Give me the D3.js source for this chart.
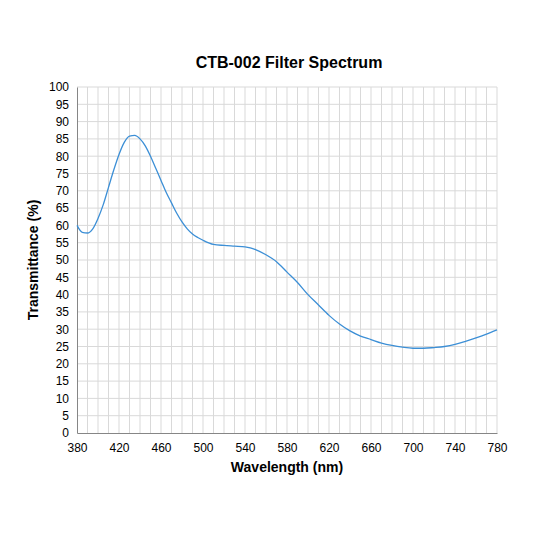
<!DOCTYPE html><html><head><script src="https://cdn.jsdelivr.net/npm/d3@7"></script>
<style>body{margin:0;background:#fff}text{font-family:Arial,"Liberation Sans",sans-serif}</style></head><body>
<svg width="533" height="533"></svg>
<script>
const wavelengths=[380,385,390,395,400,405,410,415,420,425,430,435,440,445,450,455,460,465,470,475,480,485,490,495,500,510,520,530,540,545,550,560,570,580,590,600,610,620,630,640,650,660,670,680,690,700,710,720,730,740,750,760,770,780];
const transmittance=[60,58,57.8,59,62,66,71,76,80.5,84,85.8,86,85,83,80,76.5,73,69.5,66.5,63.5,61,59,57.5,56.5,55.7,54.5,54.2,54,53.8,53.5,53,51.5,49.5,46.5,43.5,40,37,34,31.5,29.5,28,27,26,25.3,24.8,24.5,24.5,24.7,25,25.6,26.5,27.5,28.6,29.8];
const xTicks=d3.range(380,781,40), yTicks=d3.range(0,101,5);
const svg=d3.select("svg");
const x=d3.scaleLinear().domain([380,780]).range([77,497]);
const y=d3.scaleLinear().domain([0,100]).range([433,87]);
const g=svg.append("g");
g.selectAll(".vg").data(d3.range(390,781,10)).join("line").attr("x1",x).attr("x2",x).attr("y1",87).attr("y2",433).attr("stroke","#d9d9d9");
g.selectAll(".hg").data(d3.range(5,101,5)).join("line").attr("y1",y).attr("y2",y).attr("x1",77).attr("x2",497).attr("stroke","#d9d9d9");
const ya=svg.append("g").attr("transform","translate(77,0)").call(d3.axisLeft(y).tickValues(yTicks).tickSize(0).tickPadding(8));
const xa=svg.append("g").attr("transform","translate(0,433)").call(d3.axisBottom(x).tickValues(xTicks).tickSize(0).tickPadding(10));
[ya,xa].forEach(a=>{a.select(".domain").attr("stroke","#868686");a.selectAll("text").attr("font-size",12).attr("fill","#000")});
svg.append("path").datum(wavelengths.map((w,i)=>[w,transmittance[i]])).attr("fill","none").attr("stroke","#3c8fd6").attr("stroke-width",1.3)
 .attr("d",d3.line().x(d=>x(d[0])).y(d=>y(d[1])).curve(d3.curveMonotoneX));
svg.append("text").attr("x",289).attr("y",68).attr("text-anchor","middle").attr("font-size",16).attr("font-weight","bold").text("CTB-002 Filter Spectrum");
svg.append("text").attr("x",287).attr("y",472).attr("text-anchor","middle").attr("font-size",14).attr("font-weight","bold").text("Wavelength (nm)");
svg.append("text").attr("transform","translate(38,260) rotate(-90)").attr("text-anchor","middle").attr("font-size",14).attr("font-weight","bold").text("Transmittance (%)");
</script></body></html>
